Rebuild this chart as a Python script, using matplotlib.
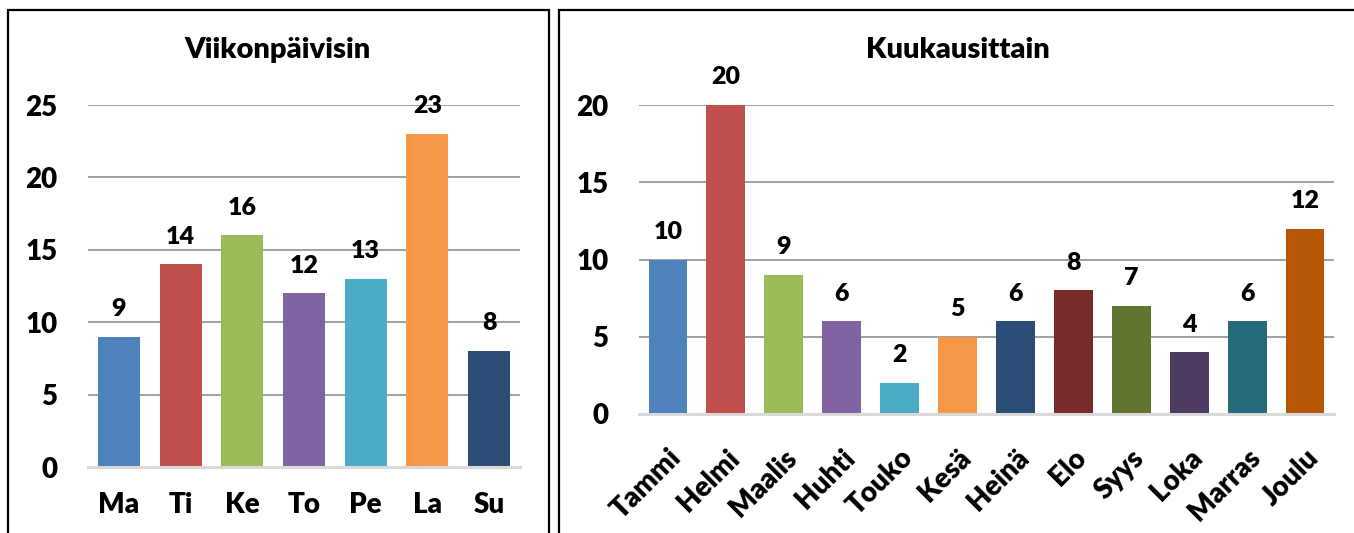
import matplotlib
matplotlib.use("Agg")
import matplotlib.pyplot as plt
from matplotlib.patches import Rectangle

plt.rcParams['font.family'] = ['Lato', 'DejaVu Sans']
plt.rcParams['font.weight'] = 'heavy'

# weekday data
days = ["Ma", "Ti", "Ke", "To", "Pe", "La", "Su"]
day_counts = [9, 14, 16, 12, 13, 23, 8]
day_colors = ["#4F81BD", "#C0504D", "#9BBB59", "#8064A2", "#4BACC6", "#F79646", "#2C4D75"]

# monthly data
months = ["Tammi", "Helmi", "Maalis", "Huhti", "Touko", "Kesä",
          "Heinä", "Elo", "Syys", "Loka", "Marras", "Joulu"]
month_counts = [10, 20, 9, 6, 2, 5, 6, 8, 7, 4, 6, 12]
month_colors = ["#4F81BD", "#C0504D", "#9BBB59", "#8064A2", "#4BACC6", "#F79646",
                "#2C4D75", "#772C2A", "#5F7530", "#4D3B62", "#276A7C", "#B65708"]

W, H = 1354, 533
FS = 20


def style_axes(ax, ymax, step):
    ax.set_ylim(0, ymax)
    ax.set_yticks(range(0, ymax + 1, step))
    for s in ['top', 'right', 'left']:
        ax.spines[s].set_visible(False)
    ax.spines['bottom'].set_color('#D9D9D9')
    ax.spines['bottom'].set_linewidth(2.2)
    ax.spines['bottom'].set_zorder(5)
    ax.yaxis.grid(True, color='#868686', linewidth=1.1)
    ax.set_axisbelow(True)
    ax.tick_params(axis='both', length=0, labelsize=FS)
    ax.tick_params(axis='y', pad=22)
    for lab in ax.get_xticklabels() + ax.get_yticklabels():
        lab.set_fontweight('heavy')


def label_bars(ax, xs, vals):
    for x, v in zip(xs, vals):
        ax.annotate(str(v), (x, v), xytext=(0, 12), textcoords='offset points',
                    ha='center', va='bottom', fontsize=FS - 2, fontweight='heavy',
                    annotation_clip=False)


def px_axes(fig, x0, x1, y_top, y_bot):
    return fig.add_axes([x0 / W, 1 - y_bot / H, (x1 - x0) / W, (y_bot - y_top) / H])


def main():
    fig = plt.figure(figsize=(W / 100, H / 100), dpi=100)

    # panel frames
    fig.patches.append(Rectangle((8 / W, -0.1), (549 - 8) / W, 1.1 - 10 / H,
                                 transform=fig.transFigure, fill=False,
                                 edgecolor='black', linewidth=1.6))
    fig.patches.append(Rectangle((559 / W, -0.1), 0.7, 1.1 - 10 / H,
                                 transform=fig.transFigure, fill=False,
                                 edgecolor='black', linewidth=1.6))

    # left: by weekday
    ax1 = px_axes(fig, 88, 520, 105, 467)
    xs = range(len(days))
    ax1.bar(xs, day_counts, width=0.68, color=day_colors)
    ax1.set_xlim(-0.5, len(days) - 0.5)
    ax1.set_xticks(list(xs))
    ax1.set_xticklabels(days)
    style_axes(ax1, 25, 5)
    ax1.tick_params(axis='x', pad=18)
    label_bars(ax1, xs, day_counts)
    fig.text(278 / W, 1 - 50 / H, "Viikonpäivisin", ha='center', va='center',
             fontsize=FS + 1, fontweight='heavy')

    # right: by month
    ax2 = px_axes(fig, 639, 1334, 105, 414)
    xs2 = range(len(months))
    ax2.bar(xs2, month_counts, width=0.67, color=month_colors)
    ax2.set_xlim(-0.5, len(months) - 0.5)
    ax2.set_xticks(list(xs2))
    ax2.set_xticklabels(months, rotation=45, ha='right', va='top',
                        rotation_mode='anchor')
    style_axes(ax2, 20, 5)
    ax2.tick_params(axis='x', pad=22)
    label_bars(ax2, xs2, month_counts)
    fig.text(958 / W, 1 - 50 / H, "Kuukausittain", ha='center', va='center',
             fontsize=FS + 1, fontweight='heavy')

    fig.savefig("out.png", dpi=100)


if __name__ == "__main__":
    main()
